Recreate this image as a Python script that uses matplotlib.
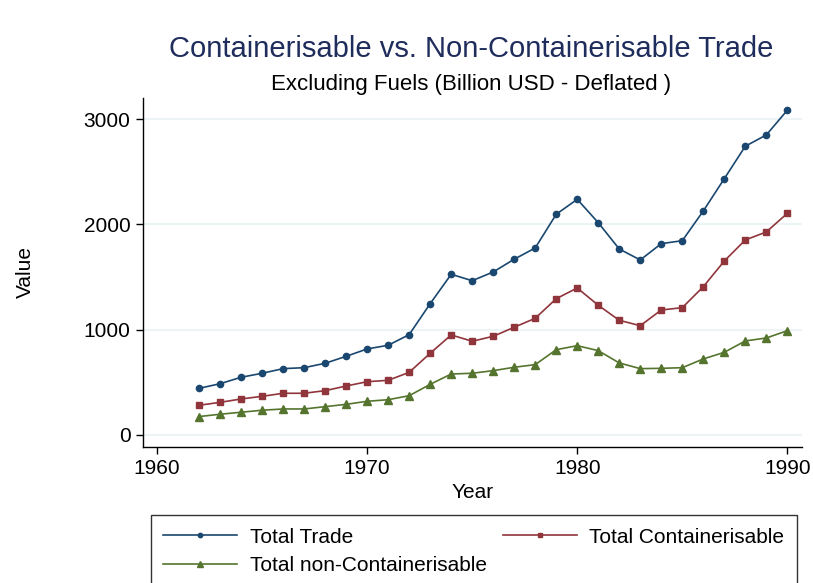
import matplotlib
matplotlib.use("Agg")
import matplotlib.pyplot as plt

# -----------------------------
# DATA
# -----------------------------

years = list(range(1962, 1991))

total_trade = [443, 487, 548, 586, 630, 639, 681, 747, 817, 852, 953, 1247, 1526,
               1465, 1548, 1669, 1776, 2096, 2238, 2016, 1766, 1662, 1817, 1845,
               2127, 2434, 2742, 2849, 3084]

total_cont = [282, 310, 342, 367, 396, 396, 421, 465, 506, 519, 595, 776, 950,
              890, 937, 1023, 1108, 1294, 1396, 1232, 1089, 1038, 1187, 1209,
              1408, 1652, 1852, 1928, 2105]

total_noncont = [175, 197, 216, 235, 247, 247, 269, 291, 320, 335, 373, 481, 579,
                 586, 611, 643, 668, 810, 848, 801, 684, 630, 633, 639,
                 722, 785, 893, 921, 990]

x_ticks = [1960, 1970, 1980, 1990]
y_ticks = [0, 1000, 2000, 3000]

# -----------------------------
# CHART
# -----------------------------

plt.rcParams["font.family"] = ["Liberation Sans", "DejaVu Sans"]

fig = plt.figure(figsize=(8.13, 5.83), dpi=100)
ax = fig.add_axes([0.1759, 0.2333, 0.8106, 0.5986])

l1, = ax.plot(years, total_trade, color="#1a476f", lw=1.2, marker="o", ms=4.5,
              label="Total Trade")
l2, = ax.plot(years, total_cont, color="#90353b", lw=1.2, marker="s", ms=5,
              label="Total Containerisable")
l3, = ax.plot(years, total_noncont, color="#55752f", lw=1.2, marker="^", ms=5.5,
              label="Total non-Containerisable")

ax.set_xlim(1959.33, 1990.7)
ax.set_ylim(-114, 3200)
ax.set_xticks(x_ticks)
ax.set_yticks(y_ticks)
ax.grid(axis="y", color="#eaf2f3", lw=1.2)
ax.set_axisbelow(True)

for s in ["top", "right"]:
    ax.spines[s].set_visible(False)
ax.spines["left"].set_linewidth(1.0)
ax.spines["bottom"].set_linewidth(1.0)
ax.tick_params(labelsize=15, length=5, width=1.0, pad=4)

ax.set_xlabel("Year", fontsize=15, va="center")
ax.xaxis.set_label_coords(0.50, -0.129)
ax.set_ylabel("Value", fontsize=15, va="center")
ax.yaxis.set_label_coords(-0.179, 0.5)

fig.text(0.58, 0.902, "Containerisable vs. Non-Containerisable Trade",
         ha="center", va="baseline", fontsize=21, color="#1f2d5c")
fig.text(0.58, 0.8456, "Excluding Fuels (Billion USD - Deflated )",
         ha="center", va="baseline", fontsize=16, color="black")

# row-major order: Trade, Containerisable / non-Containerisable
leg = fig.legend([l1, l3, l2], [l1.get_label(), l3.get_label(), l2.get_label()],
                 loc="upper left", bbox_to_anchor=(0.1857, 0.1166, 0.7946, 0),
                 mode="expand", ncol=2, fontsize=15, frameon=True, fancybox=False,
                 handlelength=3.55, borderpad=0.6, labelspacing=0.45,
                 handletextpad=0.58, borderaxespad=0, markerscale=0.7)
leg.get_frame().set_edgecolor("black")
leg.get_frame().set_linewidth(1.0)

plt.savefig("out.png", dpi=100)
